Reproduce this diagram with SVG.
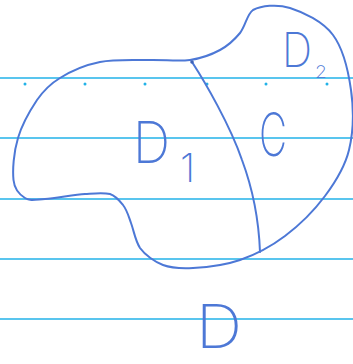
<svg xmlns="http://www.w3.org/2000/svg" width="353" height="364" viewBox="0 0 353 364">
<style>
.rule{stroke:#22b2e8;stroke-width:1.4;fill:none}
.ink{stroke:#4d78d6;stroke-width:2;fill:none;stroke-linecap:round;stroke-linejoin:round}
.lbl{font-family:Inter,"DejaVu Sans",sans-serif;font-weight:200;fill:#4d78d6}
</style>
<rect width="353" height="364" fill="#ffffff"/>
<g id="paper">
<line class="rule" x1="0" y1="78" x2="353" y2="78" stroke-width="2.6"/>
<line class="rule" x1="0" y1="138" x2="353" y2="138"/>
<line class="rule" x1="0" y1="199" x2="353" y2="199"/>
<line class="rule" x1="0" y1="259" x2="353" y2="259"/>
<line class="rule" x1="0" y1="319" x2="353" y2="319"/>
<g fill="#22b2e8">
<circle cx="25" cy="84" r="1.5"/><circle cx="85" cy="84" r="1.5"/><circle cx="145" cy="84" r="1.5"/>
<circle cx="207" cy="84" r="1.5"/><circle cx="266" cy="84" r="1.5"/><circle cx="327" cy="84" r="1.5"/>
</g>
</g>
<g id="region-D">
<path class="ink" d="M253,10 C261.3,5.8 276.7,3.8 290,8 C303.3,12.2 322.8,21.3 333,35 C343.2,48.7 348.3,70.8 351,90 C353.7,109.2 353.3,132.3 349,150 C344.7,167.7 335.7,181.7 325,196 C314.3,210.3 299.2,225.3 285,236 C270.8,246.7 255.3,254.7 240,260 C224.7,265.3 206.3,267.3 193,268 C179.7,268.7 171,268 163,265 C155,262 145,255 140,248 C135,240 134,231 131,223 C128.5,216 127,210 123,205 C119,200 116,196 110,194 C103.3,192.2 95.8,193.2 85,194 C74.2,194.8 55,198.3 45,199 C35,199.7 30.2,201.2 25,198 C19.8,194.8 14.5,189.7 13.5,180 C12.5,170.3 13.5,152.8 18,138 C21.5,126 29,112 37,100 C44,90 50,84 60,78 C70.8,71.2 85,65 100,62 C115,59 135,60.3 150,60 C165,59.7 178.3,61.7 190,60 C201.7,58.3 211.7,54.5 220,50 C228.3,45.5 234.5,39.7 240,33 C245.5,26.3 247,14 253,10 Z"/>
</g>
<g id="connectors">
<path class="ink" d="M192,62 C205,82 230,125 242,160 C255,195 259,225 260,252"/>
<circle cx="192" cy="62" r="1.8" fill="#3d62b8"/>
</g>
<g id="label-D1">
<text class="lbl" font-size="58"><tspan x="133" y="163" textLength="37" lengthAdjust="spacingAndGlyphs">D</tspan><tspan x="180" y="182" font-size="40">1</tspan></text>
</g>
<g id="label-C">
<text class="lbl" x="259" y="156" font-size="60" textLength="28" lengthAdjust="spacingAndGlyphs">C</text>
</g>
<g id="label-D2">
<text class="lbl" font-size="48"><tspan x="282" y="67" textLength="30" lengthAdjust="spacingAndGlyphs">D</tspan><tspan x="315" y="78" font-size="17" textLength="12" lengthAdjust="spacingAndGlyphs">2</tspan></text>
</g>
<g id="label-D">
<text class="lbl" x="196" y="348" font-size="60" textLength="46" lengthAdjust="spacingAndGlyphs">D</text>
</g>
</svg>
